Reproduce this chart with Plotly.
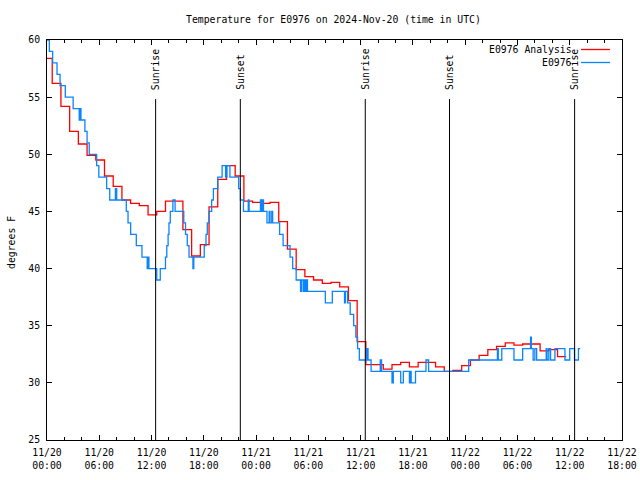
import plotly.graph_objects as go

# ---------------- data ----------------
# hours since 2024-11-20 00:00 UTC
red_hours = [0, 0.6, 1.6, 2.6, 3.6, 4.6, 5.6, 6.6, 7.6, 8.6, 9.6, 10.6, 11.6, 12.6, 13.6,
             14.6, 15.6, 16.6, 17.6, 18.6, 19.6, 20.6, 21.6, 22.6, 23.6, 24.6, 25.6, 26.6,
             27.6, 28.6, 29.6, 30.6, 31.6, 32.6, 33.6, 34.6, 35.6, 36.6, 37.6, 38.6, 39.6,
             40.6, 41.6, 42.6, 43.6, 44.6, 45.6, 46.6, 47.6, 48.6, 49.6, 50.6, 51.6, 52.6,
             53.6, 54.6, 55.6, 56.6, 57.6, 58.6, 59.6]
red_temps = [58.4, 56.2, 54.2, 52.0, 50.9, 49.9, 49.5, 48.1, 47.2, 46.0, 45.7, 45.5, 44.7,
             45.0, 45.9, 45.9, 43.4, 41.1, 42.1, 45.4, 47.8, 49.0, 48.1, 45.9, 45.8, 45.7,
             45.8, 44.1, 41.7, 39.9, 39.3, 39.0, 38.7, 38.8, 38.4, 37.2, 33.6, 31.6, 31.6,
             31.2, 31.6, 31.8, 31.4, 31.8, 31.8, 31.4, 31.0, 31.1, 31.5, 32.0, 32.4, 32.9,
             33.2, 33.5, 33.3, 33.4, 33.4, 32.8, 32.9, 32.3, 32.3]

blue_hours = [0.00, 0.27, 0.65, 1.15, 1.50, 2.10, 3.00, 3.70, 3.78, 3.90, 4.35, 4.60, 4.85,
              5.70, 5.95, 6.85, 7.20, 7.85, 8.00, 9.10, 9.30, 9.60, 10.25, 10.90, 11.50,
              11.55, 11.70, 12.60, 13.00, 13.60, 13.75, 13.90, 14.00, 14.15, 14.45, 14.70,
              15.70, 15.90, 16.10, 16.30, 16.75, 16.85, 18.05, 18.25, 18.40, 18.60, 18.90,
              19.10, 19.60, 20.10, 20.50, 20.65, 21.00, 22.00, 22.20, 22.55, 23.10, 23.20,
              24.50, 24.60, 24.70, 24.85, 25.25, 25.50, 25.60, 25.80, 25.90, 26.70, 27.10,
              27.90, 28.20, 28.60, 29.10, 29.20, 29.40, 29.50, 29.65, 29.80, 29.90, 31.95,
              32.75, 34.15, 34.25, 34.50, 34.80, 35.20, 35.45, 35.65, 35.85, 36.70, 36.85,
              37.20, 38.25, 38.40, 39.60, 39.75, 40.60, 40.90, 41.60, 41.72, 41.80, 42.30,
              43.50, 43.80, 48.40, 51.70, 51.80, 52.20, 53.60, 54.60, 55.50, 55.60, 55.80,
              56.00, 56.20, 57.30, 57.40, 57.60, 57.80, 58.30, 59.45, 60.00, 60.55, 61.00,
              61.20]
blue_temps = [60, 59, 58, 57, 56, 55, 54, 53, 54, 53, 52, 51, 50,
              49, 48, 47, 46, 47, 46, 45, 44, 43, 42, 41, 40,
              41, 40, 39, 40, 41, 42, 43, 44, 45, 46, 45,
              44, 43, 42, 41, 40, 41, 42, 43, 44, 45, 46,
              47, 48, 49, 48, 49, 48, 47, 46, 45, 46, 45,
              46, 45, 46, 45, 44, 45, 44, 45, 44, 43, 42,
              41, 40, 39, 38, 39, 38, 39, 38, 39, 38, 37,
              38, 37, 38, 37, 36, 35, 34, 33, 32, 33, 32,
              31, 32, 31, 30, 31, 30, 31, 30, 31, 30, 31,
              32, 31, 32, 33, 32, 33, 32, 33, 34, 33, 32,
              33, 32, 33, 32, 33, 32, 33, 32, 33, 32, 33,
              33]

sun_hours = [12.47, 22.19, 36.53, 46.20, 60.56]
sun_labels = ["Sunrise", "Sunset", "Sunrise", "Sunset", "Sunrise"]

tick_hours = [0, 6, 12, 18, 24, 30, 36, 42, 48, 54, 60, 66]
tick_labels = ["11/20<br>00:00", "11/20<br>06:00", "11/20<br>12:00", "11/20<br>18:00",
               "11/21<br>00:00", "11/21<br>06:00", "11/21<br>12:00", "11/21<br>18:00",
               "11/22<br>00:00", "11/22<br>06:00", "11/22<br>12:00", "11/22<br>18:00"]

RED = "#ff0000"
BLUE = "#0a84ff"
FONT = "DejaVu Sans Mono"

fig = go.Figure()
fig.add_trace(go.Scatter(x=red_hours, y=red_temps, mode="lines", line_shape="hv",
                         name="E0976 Analysis", line=dict(color=RED, width=1.3)))
fig.add_trace(go.Scatter(x=blue_hours, y=blue_temps, mode="lines", line_shape="hv",
                         name="E0976", line=dict(color=BLUE, width=1.3)))

L, R, T, B = 47, 18, 40, 40
W, H = 640, 480
pw, ph = W - L - R, H - T - B


def px_x(p):
    return (p - L) / pw


def px_y(p):
    return (H - B - p) / ph


shapes = []
annotations = []
for h, lab in zip(sun_hours, sun_labels):
    shapes.append(dict(type="line", xref="x", yref="paper", x0=h, x1=h,
                       y0=0, y1=px_y(99), line=dict(color="black", width=1)))
    annotations.append(dict(x=h, y=px_y(92), xref="x", yref="paper", text=lab,
                            textangle=-90, showarrow=False, xanchor="center",
                            yanchor="bottom", font=dict(family=FONT, size=9.8, color="black")))

# legend drawn gnuplot-style (text left of sample line)
for name, col, ypix in [("E0976 Analysis", RED, 49.5), ("E0976", BLUE, 62.5)]:
    annotations.append(dict(x=px_x(574), y=px_y(ypix), xref="paper", yref="paper",
                            text=name, showarrow=False, xanchor="right", yanchor="middle",
                            font=dict(family=FONT, size=9.8, color="black")))
    shapes.append(dict(type="line", xref="paper", yref="paper", x0=px_x(581), x1=px_x(610),
                       y0=px_y(ypix), y1=px_y(ypix), line=dict(color=col, width=1.3)))

annotations.append(dict(x=px_x(333.5), y=px_y(20), xref="paper", yref="paper",
                        text="Temperature for E0976 on 2024-Nov-20 (time in UTC)",
                        showarrow=False, xanchor="center", yanchor="middle",
                        font=dict(family=FONT, size=9.8, color="black")))
annotations.append(dict(x=px_x(11), y=px_y(243), xref="paper", yref="paper",
                        text="degrees F", textangle=-90, showarrow=False,
                        xanchor="center", yanchor="middle",
                        font=dict(family=FONT, size=9.8, color="black")))

fig.update_layout(
    width=W, height=H,
    margin=dict(l=L, r=R, t=T, b=B, pad=0, autoexpand=False),
    paper_bgcolor="white", plot_bgcolor="white",
    showlegend=False,
    font=dict(family=FONT, size=9.8, color="black"),
    shapes=shapes, annotations=annotations,
    xaxis=dict(range=[0, 66], tickvals=tick_hours, ticktext=tick_labels, automargin=False,
               showgrid=False, zeroline=False, showline=True, linecolor="black",
               linewidth=1, mirror="ticks", ticks="inside", ticklen=5, tickcolor="black",
               minor=dict(dtick=2, ticks="inside", ticklen=3, tickcolor="black", showgrid=False),
               tickfont=dict(family=FONT, size=9.8), ticklabelstandoff=3),
    yaxis=dict(range=[25, 60], dtick=5, tick0=25, showgrid=False, zeroline=False,
               automargin=False,
               showline=True, linecolor="black", linewidth=1, mirror="ticks",
               ticks="inside", ticklen=5, tickcolor="black",
               tickfont=dict(family=FONT, size=9.8), ticklabelstandoff=4),
)

fig.write_html("out.html", config={"displayModeBar": False},
               post_script="document.body.style.margin='0';document.body.style.overflow='hidden';")
